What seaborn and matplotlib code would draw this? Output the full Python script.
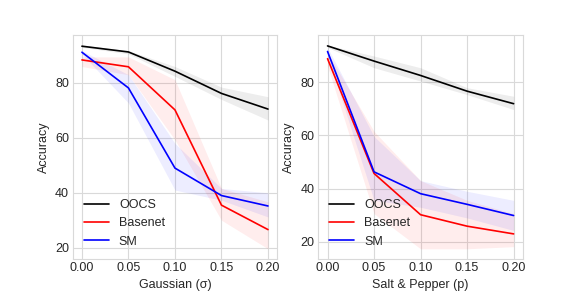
import numpy as np
import pandas as pd
import seaborn as sns
import matplotlib.pyplot as plt

noise = [0.00, 0.05, 0.10, 0.15, 0.20]
models = ["OOCS", "Basenet", "SM"]
colors = {"OOCS": "black", "Basenet": "red", "SM": "blue"}

# Gaussian noise: mean accuracy and band (low, high)
gauss_mean = {
    "OOCS": [93.4, 91.3, 84.3, 76.2, 70.5],
    "Basenet": [88.4, 85.9, 70.2, 35.5, 26.6],
    "SM": [91.2, 78.2, 49.0, 39.0, 35.2],
}
gauss_low = {
    "OOCS": [93.0, 90.6, 82.4, 74.0, 66.5],
    "Basenet": [86.0, 83.0, 59.3, 30.0, 19.6],
    "SM": [90.5, 72.7, 41.0, 37.3, 31.2],
}
gauss_high = {
    "OOCS": [93.8, 91.8, 86.0, 78.5, 75.0],
    "Basenet": [89.5, 89.5, 81.2, 41.6, 36.7],
    "SM": [91.8, 83.0, 58.0, 41.6, 40.0],
}

# Salt & pepper noise
sp_mean = {
    "OOCS": [93.6, 87.9, 82.5, 76.6, 71.9],
    "Basenet": [88.8, 45.7, 30.2, 25.9, 23.0],
    "SM": [91.5, 46.3, 38.1, 34.1, 29.9],
}
sp_low = {
    "OOCS": [93.0, 85.4, 80.4, 75.3, 69.7],
    "Basenet": [86.0, 30.6, 17.4, 17.4, 18.2],
    "SM": [90.0, 35.6, 33.0, 29.0, 24.3],
}
sp_high = {
    "OOCS": [93.9, 89.8, 85.4, 77.9, 74.7],
    "Basenet": [91.0, 61.5, 43.0, 35.6, 30.6],
    "SM": [93.0, 59.6, 43.0, 39.0, 35.6],
}


def to_frame(mean, low, high):
    rows = []
    for m in models:
        for i, x in enumerate(noise):
            rows.append({"noise": x, "model": m, "acc": mean[m][i],
                         "low": low[m][i], "high": high[m][i]})
    return pd.DataFrame(rows)


sns.set_style("whitegrid")
plt.rcParams["font.family"] = ["Liberation Sans", "DejaVu Sans"]
plt.rcParams["axes.edgecolor"] = "0.85"
plt.rcParams["grid.color"] = "0.85"

fig, axes = plt.subplots(1, 2, figsize=(5.81, 2.91), dpi=100)

panels = [
    (to_frame(gauss_mean, gauss_low, gauss_high), "Gaussian (σ)"),
    (to_frame(sp_mean, sp_low, sp_high), "Salt & Pepper (p)"),
]

for ax, (df, xlabel) in zip(axes, panels):
    sns.lineplot(data=df, x="noise", y="acc", hue="model", palette=colors,
                 hue_order=models, linewidth=1.2, errorbar=None, ax=ax)
    for m in models:
        sub = df[df["model"] == m]
        ax.fill_between(sub["noise"], sub["low"], sub["high"],
                        color=colors[m], alpha=0.07, linewidth=0)
    ax.set_xlabel(xlabel, fontsize=9, labelpad=3)
    ax.set_ylabel("Accuracy", fontsize=9)
    ax.set_xticks(noise)
    ax.set_xticklabels([f"{x:.2f}" for x in noise])
    ax.set_yticks([20, 40, 60, 80])
    ax.tick_params(labelsize=9, length=0, pad=2.5)
    ax.legend(loc="lower left", frameon=False, fontsize=9, title=None)

plt.savefig("out.png", dpi=100)
